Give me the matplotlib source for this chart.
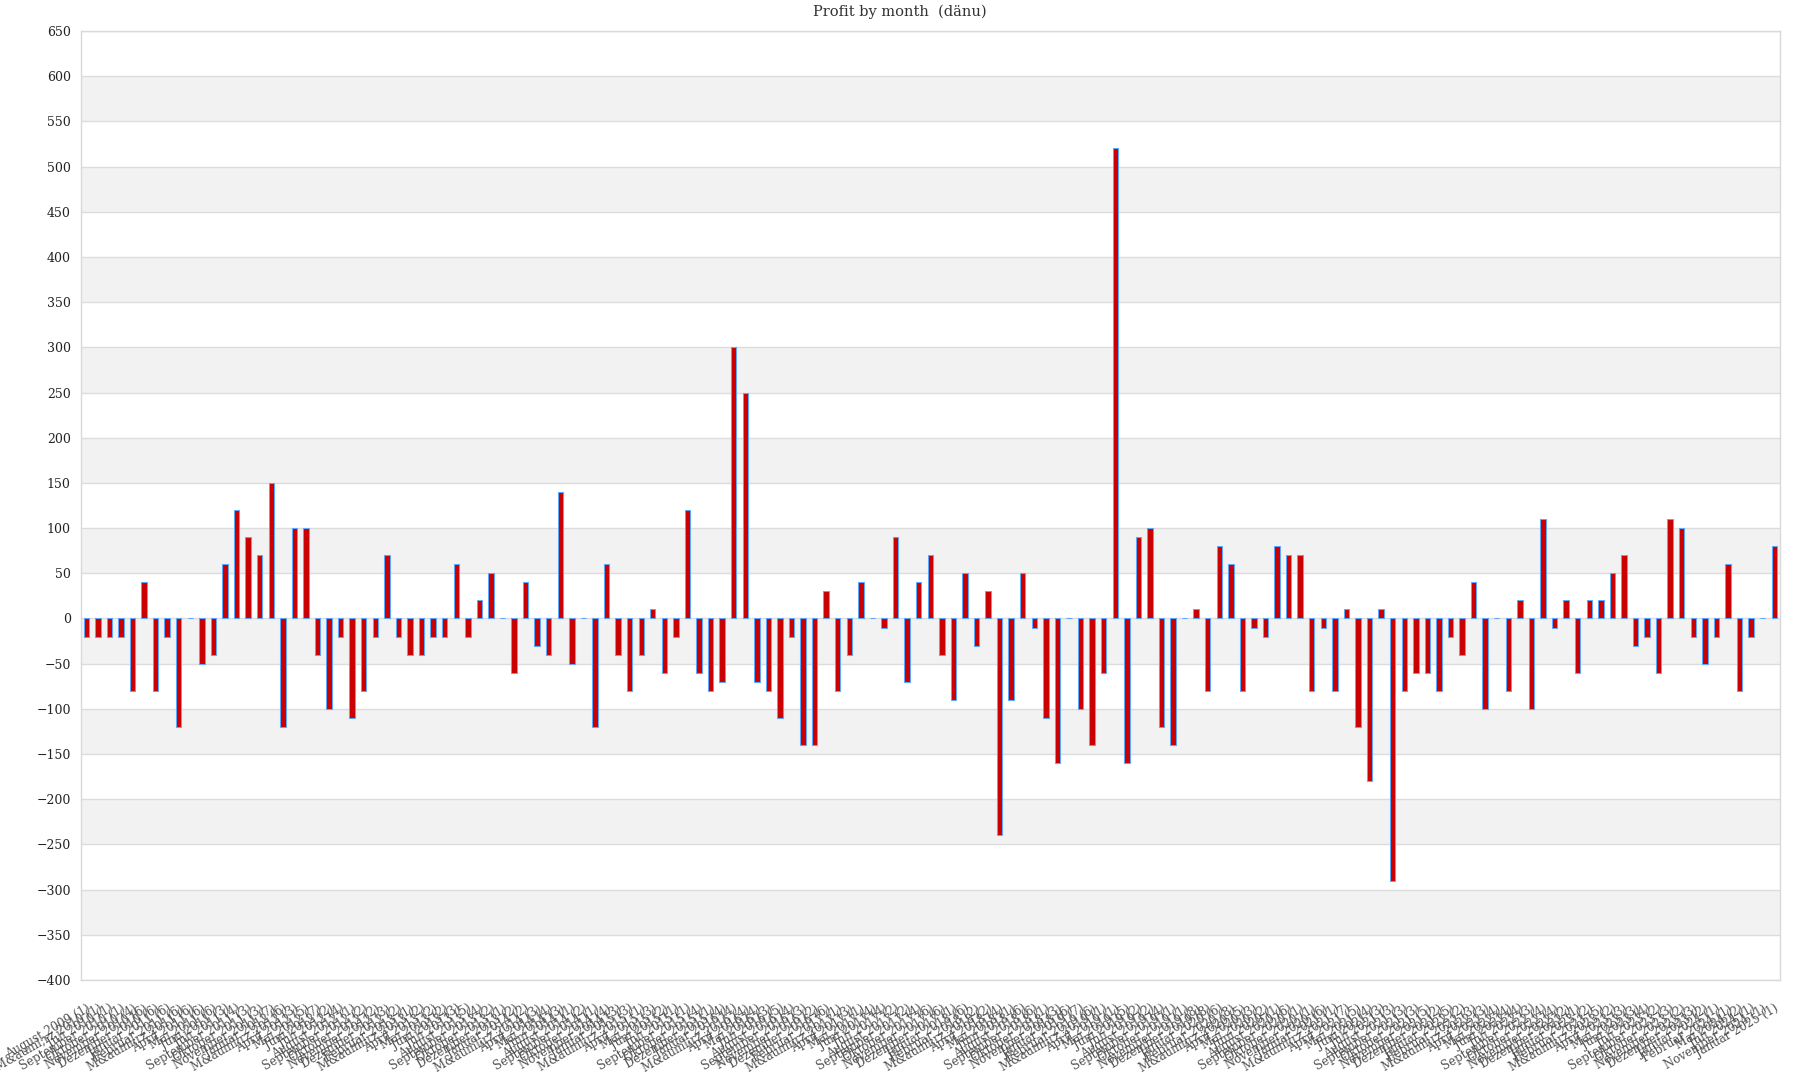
import numpy as np
import matplotlib
matplotlib.use("Agg")
import matplotlib.pyplot as plt

plt.rcParams["font.family"] = ["DejaVu Serif", "DejaVu Sans"]

MAERZ = "M&auml;rz"

# months with data per year (as shown on the category axis)
months_2009 = ["August"]
months_2010 = [MAERZ, "Juli", "September", "Oktober", "November", "Dezember"]
months_2011 = ["Januar", "Februar", MAERZ, "April", "Mai", "Juni", "Juli", "September", "Oktober", "November"]
months_2012 = ["Januar", MAERZ, "April", "Mai", "Juni", "Juli", "August", "September", "Oktober", "November", "Dezember"]
months_2013 = ["Februar", MAERZ, "April", "Mai", "Juni", "Juli", "August", "September", "Oktober", "Dezember"]
months_2014 = ["Januar", MAERZ, "April", "Mai", "Juni", "August", "September", "Oktober", "November"]
months_2015 = ["Januar", MAERZ, "April", "Mai", "Juni", "Juli", "September", "Oktober", "Dezember"]
months_2016 = ["Januar", MAERZ, "April", "Mai", "Juli", "August", "September", "November", "Dezember"]
months_2017 = ["Februar", MAERZ, "April", "Mai", "Juni", "Juli", "August", "September", "Oktober", "November", "Dezember"]
months_2018 = ["Januar", "Februar", MAERZ, "April", "Mai", "Juni", "August", "September", "Oktober", "November"]
months_2019 = ["Januar", "Februar", MAERZ, "April", "Mai", "Juni", "Juli", "August", "September", "Oktober", "November", "Dezember"]
months_2020 = ["Januar", "Februar", MAERZ, "April", "Mai", "Juni", "August", "September", "Oktober", "November"]
months_2021 = ["Januar", MAERZ, "April", "Mai", "Juni", "Juli", "August", "September", "Oktober", "November", "Dezember"]
months_2022 = ["Januar", "Februar", MAERZ, "April", "Mai", "Juni", "Juli", "September", "Oktober", "November", "Dezember"]
months_2023 = ["Januar", "Februar", MAERZ, "April", "Mai", "Juni", "Juli", "September", "Oktober", "November", "Dezember"]
months_2024 = ["Januar", "Februar", "Mai", "Juli", "November"]
months_2025 = ["Januar"]

years = {
    2009: months_2009, 2010: months_2010, 2011: months_2011, 2012: months_2012,
    2013: months_2013, 2014: months_2014, 2015: months_2015, 2016: months_2016,
    2017: months_2017, 2018: months_2018, 2019: months_2019, 2020: months_2020,
    2021: months_2021, 2022: months_2022, 2023: months_2023, 2024: months_2024,
    2025: months_2025,
}

# number of trades per month (the value in brackets)
counts = [1, 1, 1, 1, 4, 6, 6, 6, 6, 6, 6, 6, 3, 4, 3, 3, 7, 6, 3, 5,
          7, 2, 4, 1, 2, 2, 3, 2, 1, 2, 2, 2, 3, 5, 4, 2, 1, 2, 2, 3,
          4, 3, 1, 2, 1, 4, 3, 3, 1, 3, 2, 1, 1, 4, 1, 4, 4, 4, 4, 3,
          5, 4, 3, 2, 6, 1, 3, 1, 4, 4, 2, 2, 4, 6, 6, 1, 6, 2, 2, 4,
          1, 6, 6, 1, 3, 6, 7, 6, 1, 1, 5, 2, 2, 4, 1, 1, 8, 8, 6, 8,
          5, 3, 2, 1, 6, 1, 1, 6, 1, 7, 5, 4, 3, 3, 3, 3, 5, 2, 5, 2,
          3, 3, 4, 4, 4, 3, 4, 4, 2, 1, 2, 5, 2, 3, 3, 4, 2, 3, 2, 3,
          2, 1, 1, 2, 1, 1, 1]

profit = [-20, -20, -20, -20, -80, 40, -80, -20, -120, 0,
          -50, -40, 60, 120, 90, 70, 150, -120, 100, 100,
          -40, -100, -20, -110, -80, -20, 70, -20, -40, -40,
          -20, -20, 60, -20, 20, 50, 0, -60, 40, -30,
          -40, 140, -50, 0, -120, 60, -40, -80, -40, 10,
          -60, -20, 120, -60, -80, -70, 300, 250, -70, -80,
          -110, -20, -140, -140, 30, -80, -40, 40, 0, -10,
          90, -70, 40, 70, -40, -90, 50, -30, 30, -240,
          -90, 50, -10, -110, -160, 0, -100, -140, -60, 520,
          -160, 90, 100, -120, -140, 0, 10, -80, 80, 60,
          -80, -10, -20, 80, 70, 70, -80, -10, -80, 10,
          -120, -180, 10, -290, -80, -60, -60, -80, -20, -40,
          40, -100, 0, -80, 20, -100, 110, -10, 20, -60,
          20, 20, 50, 70, -30, -20, -60, 110, 100, -20,
          -50, -20, 60, -80, -20, 0, 80]

names = [f"{m} {y}" for y, ms in years.items() for m in ms]
labels = [f"{n} ({c})" for n, c in zip(names, counts)]

fig = plt.figure(figsize=(18, 10.8), dpi=100)
ax = fig.add_axes([80.5 / 1800, 1 - 980 / 1080, 1699.5 / 1800, 949 / 1080])

# alternating bands
for lo in range(-350, 600, 100):
    ax.axhspan(lo, lo + 50, color="#f2f2f2", lw=0, zorder=0)

x = np.arange(len(profit))
ax.bar(x, profit, width=0.47, color="#cc0000", edgecolor="#5aa8ff",
       linewidth=0.75, zorder=3)

ax.set_xlim(-0.5, len(profit) - 0.5)
ax.set_ylim(-400, 650)
ax.set_yticks(range(-400, 651, 50))
ax.yaxis.grid(True, color="#dcdcdc", lw=1, zorder=1)
ax.set_axisbelow(True)

ax.set_xticks(x)
ax.set_xticklabels(labels, rotation=30, ha="right", va="top",
                   rotation_mode="anchor", fontsize=8.5, color="#505050")
ax.tick_params(axis="x", length=0, pad=16)
ax.tick_params(axis="y", length=0, pad=7, labelsize=9, labelcolor="#222222")

for s in ax.spines.values():
    s.set_color("#d9d9d9")
    s.set_linewidth(1)

fig.text(0.5, 1 - 12 / 1080, "Profit by month  (dänu)", ha="center", va="center",
         fontsize=10.5, color="#333333")

fig.savefig("out.png", dpi=100)
